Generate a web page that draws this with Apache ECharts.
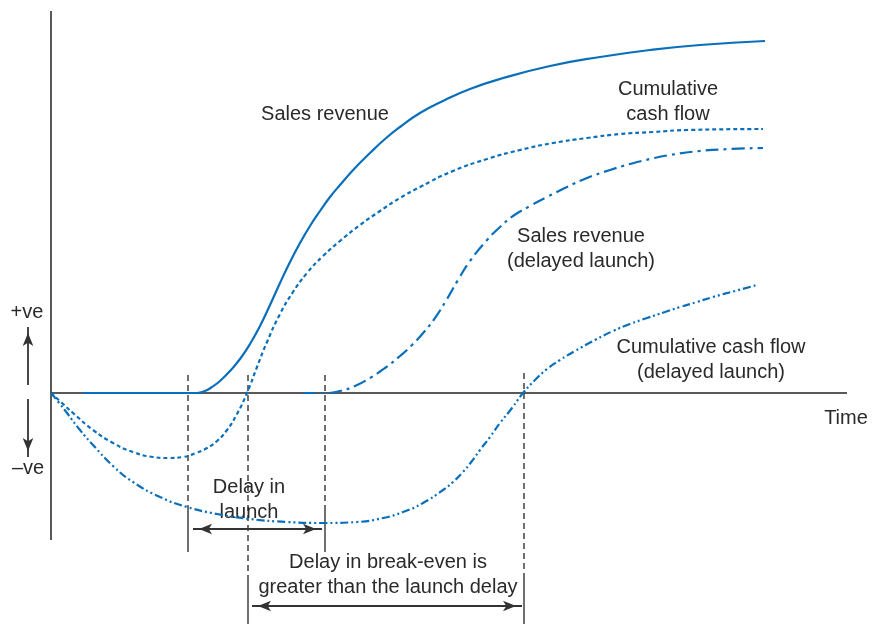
<!DOCTYPE html>
<html>
<head>
<meta charset="utf-8">
<script src="https://cdn.jsdelivr.net/npm/echarts@6/dist/echarts.min.js"></script>
<style>
  html, body { margin: 0; background: #fff; }
  #chart { width: 875px; height: 624px; }
</style>
</head>
<body>
<div id="chart"></div>
<script>
// curves: [time, value]
const salesRevenue = [
  [3.2, 0], [14.6, 0], [15.4, 0.2], [16.1, 0.6], [16.9, 1.2], [17.9, 2.2], [18.9, 3.4],
  [19.9, 4.9], [20.9, 6.7], [21.9, 8.8], [22.9, 11.0], [23.9, 13.1], [24.9, 15.0],
  [25.9, 16.7], [26.9, 18.2], [27.9, 19.6], [28.9, 20.8], [30.4, 22.5], [31.9, 24.0],
  [33.4, 25.4], [34.9, 26.6], [36.9, 28.0], [39.4, 29.3], [41.9, 30.4], [44.9, 31.4],
  [49.9, 32.7], [54.9, 33.6], [59.9, 34.3], [64.9, 34.8], [71.4, 35.2]
];
const cashFlow = [
  [0, 0], [1.1, -1.0], [2.2, -2.0], [4.2, -3.7], [6.2, -5.0], [8.2, -5.9], [10.2, -6.4],
  [11.7, -6.5], [13.2, -6.4], [14.5, -6.0], [15.6, -5.5], [16.6, -4.8], [17.6, -3.7],
  [18.6, -2.1], [19.6, 0], [20.6, 2.6], [21.6, 5.1], [22.9, 7.9], [24.2, 10.1],
  [25.6, 12.0], [27.2, 13.7], [28.9, 15.2], [30.9, 16.8], [32.9, 18.2], [34.9, 19.5],
  [36.9, 20.6], [40.2, 22.2], [43.6, 23.4], [46.9, 24.3], [50.2, 25.0], [53.6, 25.5],
  [56.9, 25.9], [60.2, 26.1], [63.6, 26.3], [71.2, 26.4]
];
const salesDelayed = [
  [25.2, 0], [27.6, 0], [28.9, 0.2], [30.4, 0.7], [31.9, 1.5], [33.4, 2.5], [34.9, 3.7],
  [36.1, 4.8], [37.3, 6.1], [38.4, 7.5], [39.6, 9.4], [40.7, 11.3], [41.9, 13.2],
  [43.6, 15.3], [44.9, 16.6], [46.2, 17.7], [47.9, 18.7], [49.6, 19.6], [51.6, 20.6],
  [53.6, 21.5], [55.9, 22.3], [57.9, 22.9], [59.9, 23.4], [61.9, 23.8], [64.9, 24.2],
  [67.9, 24.4], [71.2, 24.5]
];
const cashDelayed = [
  [0, 0], [0.9, -1.1], [1.6, -2.0], [2.9, -3.7], [4.2, -5.2], [6.2, -7.3], [8.2, -8.9],
  [10.9, -10.4], [13.6, -11.4], [16.6, -12.1], [19.9, -12.6], [23.6, -12.9], [27.2, -13.0],
  [30.6, -12.9], [33.2, -12.5], [35.2, -11.9], [37.2, -11.0], [39.2, -9.7], [40.2, -8.9],
  [41.2, -7.9], [42.1, -6.8], [42.9, -5.7], [43.9, -4.4], [44.9, -3.0], [46.1, -1.5],
  [47.2, 0], [48.4, 1.3], [49.6, 2.4], [50.9, 3.3], [52.4, 4.2], [54.4, 5.3],
  [56.2, 6.2], [57.9, 6.9], [59.6, 7.5], [61.4, 8.1], [62.9, 8.6], [64.6, 9.1],
  [66.2, 9.6], [68.4, 10.2], [70.6, 10.8]
];

// times of the marked events
const launch = 13.7;
const breakEven = 19.7;
const launchDelayed = 27.4;
const breakEvenDelayed = 47.3;

// extent of the drawn axes
const timeEnd = 79.6;
const valueTop = 38.2;
const valueBottom = -14.7;

const BLUE = '#0a6fba';
const INK = '#2a2a2a';
const FONT = '"Liberation Sans", Arial, sans-serif';

function curve(name, data, type) {
  return {
    type: 'line', name: name, data: data,
    smooth: 0.5,
    symbol: 'none', z: 3,
    lineStyle: { color: BLUE, width: 2.2, type: type, cap: 'butt' }
  };
}

function rule(data, type, width) {
  return {
    type: 'line', symbol: 'none', silent: true, z: 2, data: data,
    lineStyle: { color: '#222', width: width || 1.3, type: type || 'solid' }
  };
}

// vertical guide: dashed part then solid part
function guide(x, top, mid, bottom) {
  return [
    rule([[x, top], [x, mid]], [6, 4]),
    rule([[x, mid], [x, bottom]])
  ];
}

// arrow ends: rotate/offset so the tip sits on the point
const dirs = {
  left: { r: 90, o: [6, 0] },
  right: { r: -90, o: [-6, 0] },
  up: { r: 0, o: [0, 6] },
  down: { r: 180, o: [0, -6] }
};
function arrow(a, b, da, db) {
  function end(p, d) {
    if (!d) return { value: p, symbol: 'none' };
    return { value: p, symbol: 'arrow', symbolRotate: dirs[d].r, symbolOffset: dirs[d].o };
  }
  return {
    type: 'line', silent: true, z: 2,
    symbolSize: [8, 13], showSymbol: true,
    itemStyle: { color: '#333' },
    lineStyle: { color: '#333', width: 1.8 },
    data: [end(a, da), end(b, db)]
  };
}

const series = [
  rule([[0, 0], [timeEnd, 0]], 'solid', 1.5),
  rule([[0, valueBottom], [0, valueTop]], 'solid', 1.5),
  curve('Sales revenue', salesRevenue, 'solid'),
  curve('Cumulative cash flow', cashFlow, [4, 3]),
  curve('Sales revenue (delayed launch)', salesDelayed, [13, 5, 3, 5]),
  curve('Cumulative cash flow (delayed launch)', cashDelayed, [8, 3, 2, 3, 2, 3])
]
  .concat(guide(launch, 1.8, -11.2, -15.9))
  .concat(guide(breakEven, 1.8, -18.4, -23.1))
  .concat(guide(launchDelayed, 1.8, -11.2, -15.9))
  .concat(guide(breakEvenDelayed, 2.0, -18.2, -23.1))
  .concat([
    arrow([launch + 0.5, -13.6], [launchDelayed - 0.3, -13.6], 'left', 'right'),
    arrow([breakEven + 0.4, -21.3], [breakEvenDelayed - 0.2, -21.3], 'left', 'right'),
    arrow([-2.3, 0.8], [-2.3, 6.6], null, 'up'),
    arrow([-2.3, -0.6], [-2.3, -6.4], null, 'down')
  ]);

function txt(text, x, y) {
  return {
    type: 'text', x: x, y: y, silent: true,
    style: { text: text, font: '20px ' + FONT, fill: INK, align: 'center',
             verticalAlign: 'middle', lineHeight: 25 }
  };
}

const hidden = {
  axisLine: { show: false }, axisTick: { show: false },
  axisLabel: { show: false }, splitLine: { show: false }
};

const option = {
  animation: false,
  backgroundColor: '#fff',
  grid: { left: 0, right: 0, top: 0, bottom: 0 },
  xAxis: Object.assign({ type: 'value', min: -5.1, max: 82.4 }, hidden),
  yAxis: Object.assign({ type: 'value', min: -23.1, max: 39.3 }, hidden),
  series: series,
  graphic: [
    txt('Sales revenue', 325, 114),
    txt('Cumulative\ncash flow', 668, 102),
    txt('Sales revenue\n(delayed launch)', 581, 249),
    txt('Cumulative cash flow\n(delayed launch)', 711, 360),
    txt('Delay in\nlaunch', 249, 500),
    txt('Delay in break-even is\ngreater than the launch delay', 388, 575),
    txt('Time', 846, 418),
    txt('+ve', 27, 312),
    txt('\u2013ve', 28, 468)
  ]
};

const chart = echarts.init(document.getElementById('chart'), null, { renderer: 'canvas' });
chart.setOption(option);
</script>
</body>
</html>
